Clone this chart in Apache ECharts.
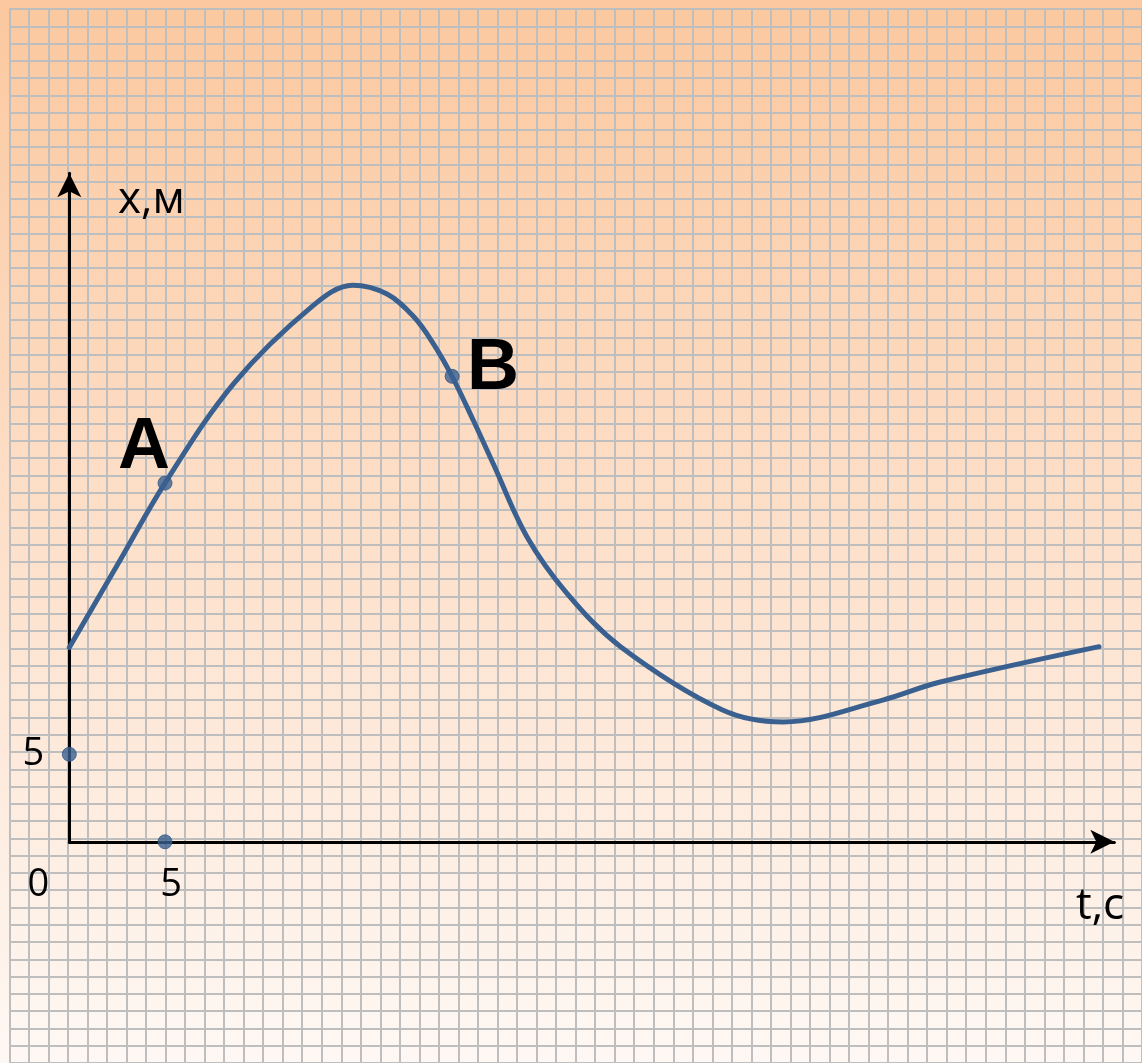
<!DOCTYPE html>
<html>
<head>
<meta charset="utf-8">
<script src="https://cdn.jsdelivr.net/npm/echarts@6/dist/echarts.min.js"></script>
<style>
html,body{margin:0;padding:0;background:#fff;}
#c{width:1142px;height:1063px;background:linear-gradient(to bottom,#FBC89F 0%,#FDE0CA 50%,#FEF8F4 100%);}
</style>
</head>
<body>
<div id="c"></div>
<script>
// ---- data ----
const curveT = [0, 2.5, 5, 8.6, 12.75, 14.8, 16.6, 18.0, 19.0, 20, 21.1, 22.15, 23.9, 26.0, 28.8, 34.1, 37.3, 42.5, 45.4, 53.8];
const curveX = [11.1, 15.8, 20.5, 26.2, 30.65, 31.8, 31.3, 30.0, 28.5, 26.6, 24.1, 21.6, 17.45, 14.2, 11.15, 7.55, 6.85, 8.1, 9.1, 11.15];
const pointNames = ['A', 'B', '', ''];
const pointT = [5, 20, 0, 5];
const pointX = [20.5, 26.6, 5, 0];
const xTickLabels = ['0', '5'];
const yTickLabels = ['5'];
const xAxisName = 't,c';
const yAxisName = 'x,м';

const chart = echarts.init(document.getElementById('c'), null, {renderer: 'canvas'});

const lineData = curveT.map((t, i) => [t, curveX[i]]);
const pointData = pointT.map((t, i) => ({value: [t, pointX[i]], name: pointNames[i]}));

const blue = '#3A6090';
const labelFont = '"Open Sans", "DejaVu Sans", sans-serif';

const option = {
  backgroundColor: 'transparent',
  animation: false,
  grid: [
    {left: 69.3, top: 173.3, width: 54.6 * 19.14, height: 38.2 * 17.5, containLabel: false},
    {left: 9.3, top: 9, width: 58 * 19.82, height: 61 * 17.38, containLabel: false}
  ],
  xAxis: [
    {
      gridIndex: 0, type: 'value', min: 0, max: 54.6, interval: 5, z: 5,
      axisLine: {show: true, onZero: true, lineStyle: {color: '#000', width: 3}, symbol: ['none', 'arrow'], symbolSize: [18, 24]},
      axisTick: {show: false}, splitLine: {show: false},
      axisLabel: {
        show: true, margin: 24, showMaxLabel: false,
        formatter: function (v) {
          if (v === 0) return '{z|' + xTickLabels[0] + '}';
          if (v === 5) return '{f|' + xTickLabels[1] + '}';
          return '';
        },
        rich: {
          z: {padding: [0, 62, 0, 0], fontSize: 38, fontFamily: labelFont, color: '#000'},
          f: {padding: [0, 0, 0, 12], fontSize: 38, fontFamily: labelFont, color: '#000'}
        }
      }
    },
    {
      gridIndex: 1, type: 'value', min: 0, max: 58, interval: 1,
      axisLine: {show: false}, axisTick: {show: false}, axisLabel: {show: false},
      splitLine: {show: true, lineStyle: {color: '#BEBEBE', width: 2}}
    }
  ],
  yAxis: [
    {
      gridIndex: 0, type: 'value', min: 0, max: 38.2, interval: 5, z: 5,
      axisLine: {show: true, onZero: true, lineStyle: {color: '#000', width: 3}, symbol: ['none', 'arrow'], symbolSize: [18, 24]},
      axisTick: {show: false}, splitLine: {show: false},
      axisLabel: {
        show: true, margin: 25, showMaxLabel: false,
        formatter: function (v) { return v === 5 ? yTickLabels[0] : ''; },
        fontSize: 38, fontFamily: labelFont, color: '#000'
      }
    },
    {
      gridIndex: 1, type: 'value', min: 0, max: 61, interval: 1,
      axisLine: {show: false}, axisTick: {show: false}, axisLabel: {show: false},
      splitLine: {show: true, lineStyle: {color: '#BEBEBE', width: 2}}
    }
  ],
  series: [
    {
      type: 'line', xAxisIndex: 0, yAxisIndex: 0, data: lineData,
      smooth: 0.35, showSymbol: false, z: 10,
      lineStyle: {color: blue, width: 5, cap: 'round', join: 'round'}
    },
    {
      type: 'scatter', xAxisIndex: 0, yAxisIndex: 0, data: pointData,
      symbol: 'circle', symbolSize: 14, z: 11,
      itemStyle: {color: blue, borderColor: '#34588A', borderWidth: 1}
    }
  ],
  graphic: [
    {type: 'text', left: 118, top: 178, z: 20, style: {text: yAxisName, font: '44px "Open Sans", sans-serif', fill: '#000'}},
    {type: 'text', left: 1076, top: 884, z: 20, style: {text: xAxisName, font: '44px "Open Sans", sans-serif', fill: '#000'}}
  ]
};
chart.setOption(option);

// point letters anchored to the data points through the chart's own scales
const letterOffsets = [[-21, -35], [41, -7]];
const letterGraphics = [];
pointNames.forEach((name, i) => {
  if (!name) return;
  const px = chart.convertToPixel({xAxisIndex: 0, yAxisIndex: 0}, [pointT[i], pointX[i]]);
  const off = letterOffsets[i];
  letterGraphics.push({
    type: 'text', z: 20, x: px[0] + off[0], y: px[1] + off[1],
    style: {
      text: name, font: 'bold 72px "Liberation Sans", Arial, sans-serif', fill: '#000000',
      align: 'center', verticalAlign: 'middle', textAlign: 'center', textVerticalAlign: 'middle'
    }
  });
});
chart.setOption({graphic: option.graphic.concat(letterGraphics)});
</script>
</body>
</html>
